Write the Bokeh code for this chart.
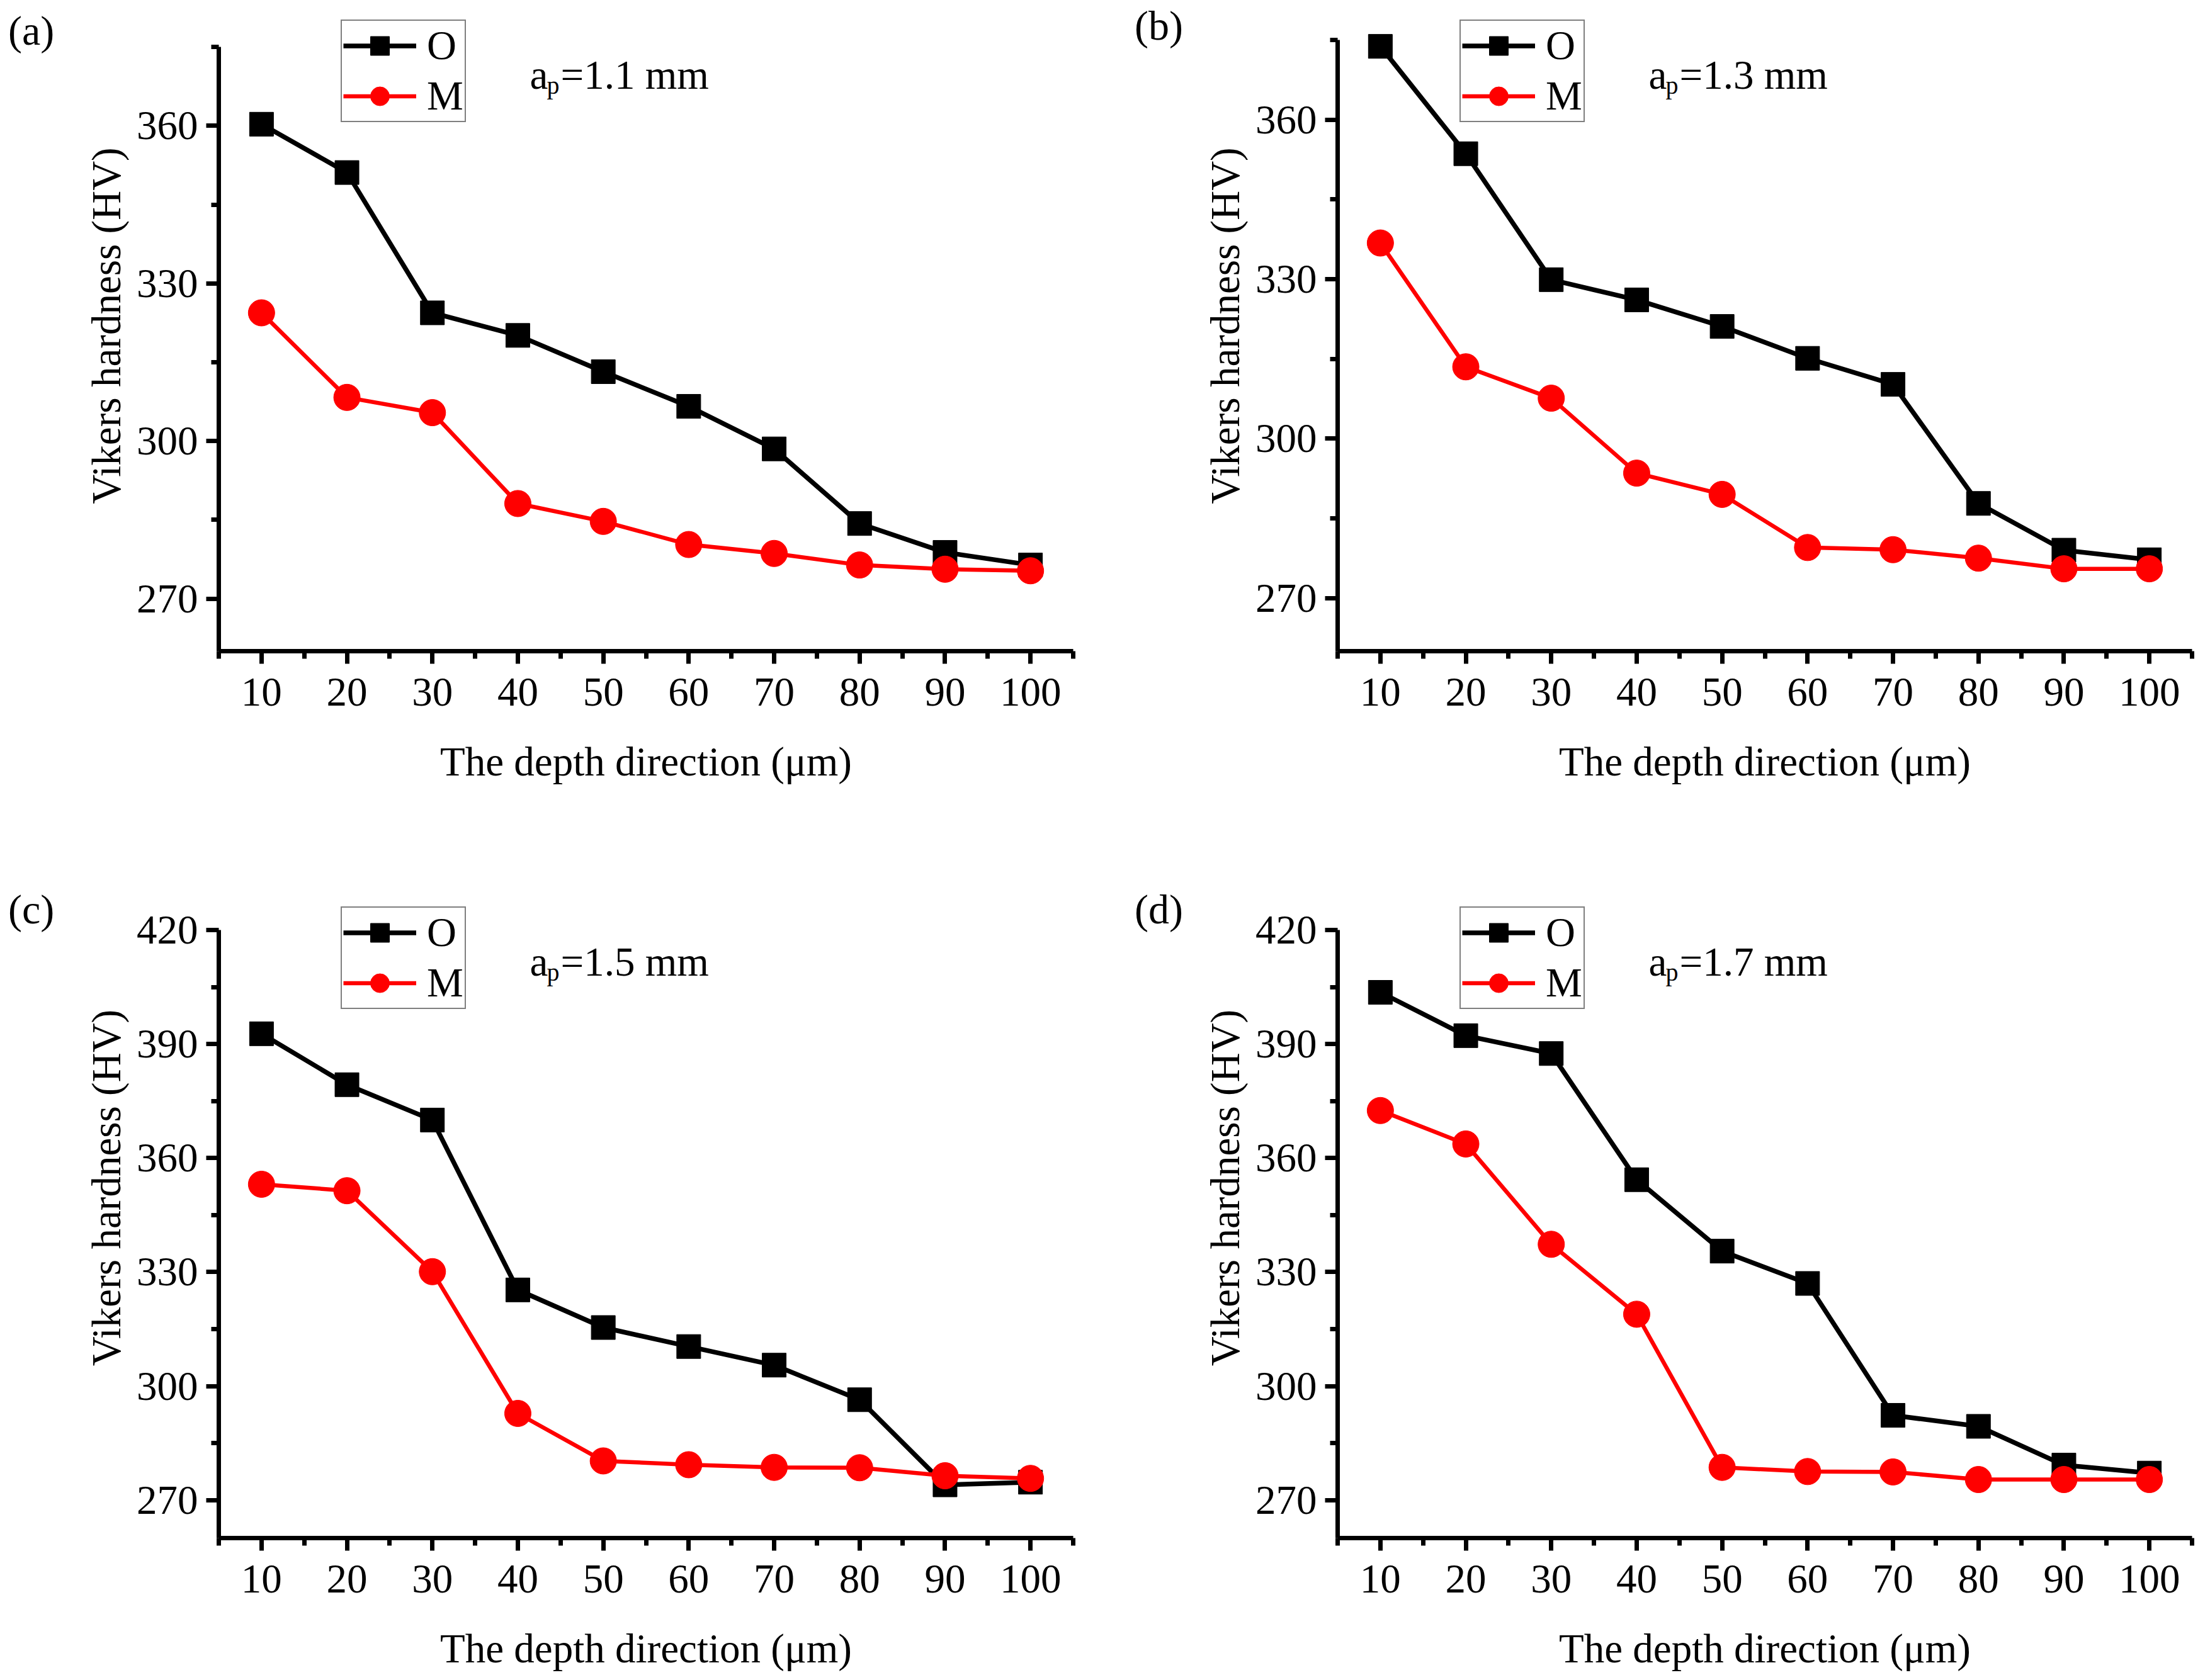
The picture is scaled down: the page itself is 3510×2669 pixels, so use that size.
from bokeh.plotting import figure
from bokeh.models import Range1d, FixedTicker, Legend, LegendItem, Label, Div
from bokeh.layouts import column, row
from bokeh.embed import file_html
from bokeh.resources import INLINE

# ---------------- data ----------------
depth = [10, 20, 30, 40, 50, 60, 70, 80, 90, 100]
x_major = [10, 20, 30, 40, 50, 60, 70, 80, 90, 100]
x_minor = [5, 15, 25, 35, 45, 55, 65, 75, 85, 95, 105]

o_11 = [360.3, 351.1, 324.4, 320.1, 313.2, 306.6, 298.5, 284.3, 278.8, 276.4]
m_11 = [324.4, 308.3, 305.4, 288.1, 284.7, 280.3, 278.6, 276.4, 275.6, 275.3]
o_13 = [373.8, 353.6, 329.9, 326.1, 321.1, 315.1, 310.2, 287.8, 279.0, 277.2]
m_13 = [336.8, 313.5, 307.6, 293.5, 289.5, 279.5, 279.1, 277.5, 275.5, 275.5]
o_15 = [392.7, 379.3, 370.0, 325.3, 315.4, 310.4, 305.5, 296.4, 274.0, 274.7]
m_15 = [353.1, 351.4, 330.1, 292.8, 280.3, 279.3, 278.6, 278.5, 276.4, 275.7]
o_17 = [403.6, 392.2, 387.5, 354.3, 335.5, 327.0, 292.3, 289.4, 279.2, 277.1]
m_17 = [372.5, 363.7, 337.3, 318.9, 278.6, 277.5, 277.4, 275.4, 275.4, 275.4]

y_major_ab = [270, 300, 330, 360]
y_minor_ab = [285, 315, 345, 375]
y_major_cd = [270, 300, 330, 360, 390, 420]
y_minor_cd = [285, 315, 345, 375, 405]

panel_labels = ["(a)", "(b)", "(c)", "(d)"]
ap_values = ["=1.1 mm", "=1.3 mm", "=1.5 mm", "=1.7 mm"]
series_names = ["O", "M"]
x_title = "The depth direction (\u03bcm)"
y_title = "Vikers hardness (HV)"

FONT = "Liberation Serif"


def make_panel(ap, o_vals, m_vals, y_start, y_top, y_major, y_minor,
               width, height, b_left, b_right, axis_px, extra_top):
    # frame reaches the top of the figure so legend/annotation are not clipped;
    # the drawn y axis is bounded to [y_start, y_top]
    y_end = y_top + extra_top * (y_top - y_start) / axis_px
    b_bottom = height - axis_px - extra_top
    p = figure(width=width, height=height, output_backend="svg",
               toolbar_location=None, x_range=Range1d(5, 105),
               y_range=Range1d(y_start, y_end),
               min_border_left=b_left, min_border_right=b_right,
               min_border_top=0, min_border_bottom=b_bottom,
               background_fill_color="white", border_fill_color="white")
    p.outline_line_color = None
    p.xgrid.visible = False
    p.ygrid.visible = False

    p.xaxis.ticker = FixedTicker(ticks=x_major, minor_ticks=x_minor)
    p.yaxis.ticker = FixedTicker(ticks=y_major, minor_ticks=y_minor)
    p.yaxis.bounds = (y_start, y_top)
    for ax in (p.xaxis, p.yaxis):
        ax.axis_line_width = 7
        ax.axis_line_color = "black"
        ax.major_tick_line_width = 7
        ax.minor_tick_line_width = 7
        ax.major_tick_line_color = "black"
        ax.minor_tick_line_color = "black"
        ax.major_tick_in = 0
        ax.minor_tick_in = 0
        ax.major_tick_out = 20
        ax.minor_tick_out = 12
        ax.major_label_text_font = FONT
        ax.major_label_text_font_size = "65px"
        ax.major_label_text_color = "black"
        ax.axis_label_text_font = FONT
        ax.axis_label_text_font_size = "65px"
        ax.axis_label_text_font_style = "normal"
        ax.axis_label_text_color = "black"
    p.xaxis.axis_label = x_title
    p.yaxis.axis_label = y_title
    p.xaxis.major_label_standoff = 23
    p.xaxis.axis_label_standoff = 50
    p.yaxis.major_label_standoff = 13
    p.yaxis.axis_label_standoff = 9

    lo = p.line(depth, o_vals, line_color="black", line_width=7.5)
    so = p.scatter(depth, o_vals, marker="square", size=38,
                   fill_color="black", line_color="black")
    lm = p.line(depth, m_vals, line_color="#ff0000", line_width=6.5)
    sm = p.scatter(depth, m_vals, marker="circle", size=42,
                   fill_color="#ff0000", line_color="#ff0000")

    legend = Legend(items=[LegendItem(label=series_names[0], renderers=[lo, so]),
                           LegendItem(label=series_names[1], renderers=[lm, sm])],
                    location=(194, 840))
    legend.label_text_font = FONT
    legend.label_text_font_size = "65px"
    legend.label_text_line_height = 1.0
    legend.label_text_color = "black"
    legend.glyph_width = 116
    legend.glyph_height = 75
    legend.label_height = 75
    legend.spacing = 5
    legend.padding = 2
    legend.margin = 0
    legend.label_standoff = 17
    legend.border_line_color = "black"
    legend.border_line_width = 2
    legend.background_fill_color = "white"
    legend.background_fill_alpha = 1.0
    p.add_layout(legend)

    p.add_layout(Label(x=494, y=916, x_units="screen", y_units="screen",
                       text="a", text_font=FONT, text_font_size="65px",
                       text_color="black", text_baseline="alphabetic"))
    p.add_layout(Label(x=521, y=899, x_units="screen", y_units="screen",
                       text="p", text_font=FONT, text_font_size="40px",
                       text_color="black", text_baseline="alphabetic"))
    p.add_layout(Label(x=543, y=916, x_units="screen", y_units="screen",
                       text=ap, text_font=FONT, text_font_size="65px",
                       text_color="black", text_baseline="alphabetic"))
    return p


def make_tag(text, width, height, left, top):
    html = ('<div style="margin:%dpx 0 0 %dpx; font-family:\'Liberation Serif\';'
            ' font-size:66px; line-height:66px; color:black; white-space:nowrap;">%s</div>'
            % (top, left, text))
    return Div(text=html, width=width, height=height, margin=0)


TOP_H = 1330
BOT_H = 1335

ta = make_tag(panel_labels[0], 100, TOP_H, 13, 16)
pa = make_panel(ap_values[0], o_11, m_11, 260, 375, y_major_ab, y_minor_ab,
                1655, TOP_H, 247, 51, 971, 75)
tb = make_tag(panel_labels[1], 135, TOP_H, 47, 8)
pb = make_panel(ap_values[1], o_13, m_13, 260, 375, y_major_ab, y_minor_ab,
                1616, TOP_H, 234, 25, 971, 63)

tc = make_tag(panel_labels[2], 100, BOT_H, 13, 82)
pc = make_panel(ap_values[2], o_15, m_15, 260, 420, y_major_cd, y_minor_cd,
                1655, BOT_H, 247, 51, 966, 147)
td = make_tag(panel_labels[3], 135, BOT_H, 47, 82)
pd = make_panel(ap_values[3], o_17, m_17, 260, 420, y_major_cd, y_minor_cd,
                1616, BOT_H, 234, 25, 966, 147)

layout = column(row(ta, pa, tb, pb), row(tc, pc, td, pd))

open("out.html", "w").write(file_html(layout, INLINE))
